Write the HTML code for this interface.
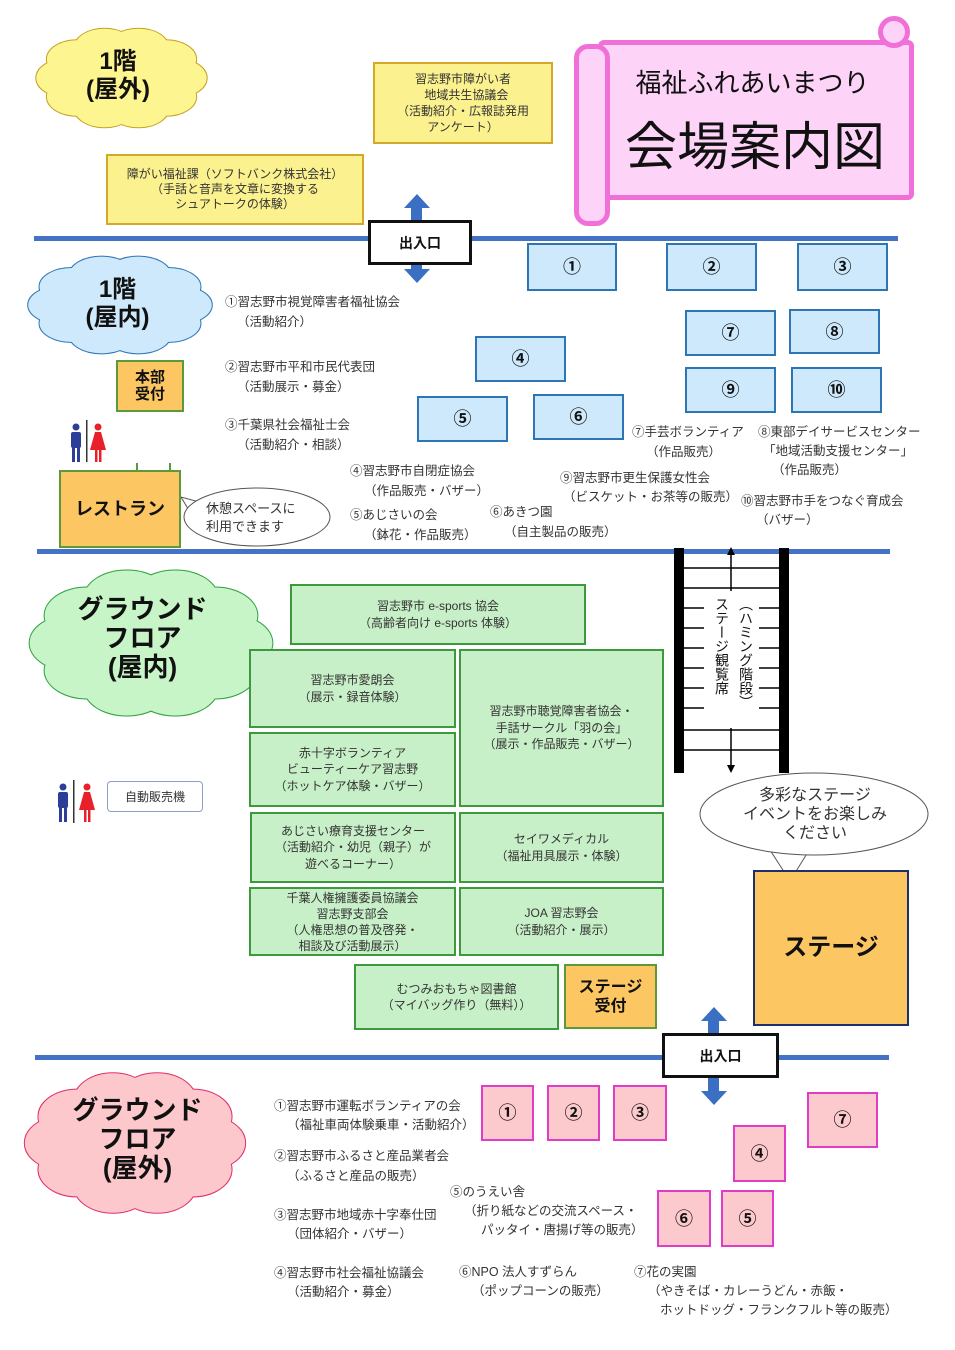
<!DOCTYPE html>
<html><head><meta charset="utf-8">
<style>
body{margin:0;width:955px;height:1350px;position:relative;background:#fff;font-family:"Liberation Sans","Noto Sans CJK JP",sans-serif;color:#333;overflow:hidden}
.t{position:absolute;white-space:nowrap;font-size:12.5px;line-height:1}
.b{position:absolute;display:flex;align-items:center;justify-content:center;text-align:center;box-sizing:border-box;font-size:12.5px;line-height:16px}
.bl{background:#cde9fb;border:2px solid #2e75b6;font-size:18px;font-weight:bold;color:#111}
.gr{background:#c8f0c8;border:2px solid #3c9a3c;font-size:12px;line-height:16.5px}
.pk{background:#fcc9cd;border:2px solid #e03cc8;font-size:18px;font-weight:bold;color:#111}
.ye{background:#fbf18f;border:2px solid #d4a829;font-size:12px;line-height:16px}
.or{background:#fcc762;border:2px solid #5a9a3a;font-weight:bold;color:#111}
.hl{position:absolute;height:5px;background:#4472c4}
.ct{position:absolute;text-align:center;font-weight:bold;color:#111;line-height:1.15}
.vt{position:absolute;writing-mode:vertical-rl;text-orientation:upright;font-size:14px;line-height:16px;letter-spacing:0;color:#111;background:#fff}
svg{position:absolute;overflow:visible}
</style></head><body>

<svg style="left:38px;top:25px" width="167" height="106" viewBox="0 0 100 100" preserveAspectRatio="none">
<g fill="none" stroke="#c8a020" stroke-width="2"><circle cx="83" cy="50" r="18" vector-effect="non-scaling-stroke"/><circle cx="76.7" cy="67.6" r="18" vector-effect="non-scaling-stroke"/><circle cx="60.2" cy="78.5" r="18" vector-effect="non-scaling-stroke"/><circle cx="39.8" cy="78.5" r="18" vector-effect="non-scaling-stroke"/><circle cx="23.3" cy="67.6" r="18" vector-effect="non-scaling-stroke"/><circle cx="17" cy="50" r="18" vector-effect="non-scaling-stroke"/><circle cx="23.3" cy="32.4" r="18" vector-effect="non-scaling-stroke"/><circle cx="39.8" cy="21.5" r="18" vector-effect="non-scaling-stroke"/><circle cx="60.2" cy="21.5" r="18" vector-effect="non-scaling-stroke"/><circle cx="76.7" cy="32.4" r="18" vector-effect="non-scaling-stroke"/></g>
<g fill="#fdf590"><circle cx="83" cy="50" r="18"/><circle cx="76.7" cy="67.6" r="18"/><circle cx="60.2" cy="78.5" r="18"/><circle cx="39.8" cy="78.5" r="18"/><circle cx="23.3" cy="67.6" r="18"/><circle cx="17" cy="50" r="18"/><circle cx="23.3" cy="32.4" r="18"/><circle cx="39.8" cy="21.5" r="18"/><circle cx="60.2" cy="21.5" r="18"/><circle cx="76.7" cy="32.4" r="18"/><ellipse cx="50" cy="50" rx="35" ry="32"/></g></svg>
<div class="ct" style="left:38px;top:48px;width:160px;font-size:24px">1階<br>(屋外)</div>

<svg style="left:30px;top:253px" width="180" height="104" viewBox="0 0 100 100" preserveAspectRatio="none">
<g fill="none" stroke="#2e75b6" stroke-width="2"><circle cx="83" cy="50" r="18" vector-effect="non-scaling-stroke"/><circle cx="76.7" cy="67.6" r="18" vector-effect="non-scaling-stroke"/><circle cx="60.2" cy="78.5" r="18" vector-effect="non-scaling-stroke"/><circle cx="39.8" cy="78.5" r="18" vector-effect="non-scaling-stroke"/><circle cx="23.3" cy="67.6" r="18" vector-effect="non-scaling-stroke"/><circle cx="17" cy="50" r="18" vector-effect="non-scaling-stroke"/><circle cx="23.3" cy="32.4" r="18" vector-effect="non-scaling-stroke"/><circle cx="39.8" cy="21.5" r="18" vector-effect="non-scaling-stroke"/><circle cx="60.2" cy="21.5" r="18" vector-effect="non-scaling-stroke"/><circle cx="76.7" cy="32.4" r="18" vector-effect="non-scaling-stroke"/></g>
<g fill="#cde9fb"><circle cx="83" cy="50" r="18"/><circle cx="76.7" cy="67.6" r="18"/><circle cx="60.2" cy="78.5" r="18"/><circle cx="39.8" cy="78.5" r="18"/><circle cx="23.3" cy="67.6" r="18"/><circle cx="17" cy="50" r="18"/><circle cx="23.3" cy="32.4" r="18"/><circle cx="39.8" cy="21.5" r="18"/><circle cx="60.2" cy="21.5" r="18"/><circle cx="76.7" cy="32.4" r="18"/><ellipse cx="50" cy="50" rx="35" ry="32"/></g></svg>
<div class="ct" style="left:35px;top:276px;width:165px;font-size:24px">1階<br>(屋内)</div>

<svg style="left:32px;top:565px" width="238" height="156" viewBox="0 0 100 100" preserveAspectRatio="none">
<g fill="none" stroke="#2ea040" stroke-width="2"><circle cx="83" cy="50" r="18" vector-effect="non-scaling-stroke"/><circle cx="76.7" cy="67.6" r="18" vector-effect="non-scaling-stroke"/><circle cx="60.2" cy="78.5" r="18" vector-effect="non-scaling-stroke"/><circle cx="39.8" cy="78.5" r="18" vector-effect="non-scaling-stroke"/><circle cx="23.3" cy="67.6" r="18" vector-effect="non-scaling-stroke"/><circle cx="17" cy="50" r="18" vector-effect="non-scaling-stroke"/><circle cx="23.3" cy="32.4" r="18" vector-effect="non-scaling-stroke"/><circle cx="39.8" cy="21.5" r="18" vector-effect="non-scaling-stroke"/><circle cx="60.2" cy="21.5" r="18" vector-effect="non-scaling-stroke"/><circle cx="76.7" cy="32.4" r="18" vector-effect="non-scaling-stroke"/></g>
<g fill="#c8f5c8"><circle cx="83" cy="50" r="18"/><circle cx="76.7" cy="67.6" r="18"/><circle cx="60.2" cy="78.5" r="18"/><circle cx="39.8" cy="78.5" r="18"/><circle cx="23.3" cy="67.6" r="18"/><circle cx="17" cy="50" r="18"/><circle cx="23.3" cy="32.4" r="18"/><circle cx="39.8" cy="21.5" r="18"/><circle cx="60.2" cy="21.5" r="18"/><circle cx="76.7" cy="32.4" r="18"/><ellipse cx="50" cy="50" rx="35" ry="32"/></g></svg>
<div class="ct" style="left:55px;top:595px;width:175px;font-size:26px;line-height:29px">グラウンド<br>フロア<br>(屋内)</div>

<svg style="left:27px;top:1068px" width="216" height="150" viewBox="0 0 100 100" preserveAspectRatio="none">
<g fill="none" stroke="#e0306a" stroke-width="2"><circle cx="83" cy="50" r="18" vector-effect="non-scaling-stroke"/><circle cx="76.7" cy="67.6" r="18" vector-effect="non-scaling-stroke"/><circle cx="60.2" cy="78.5" r="18" vector-effect="non-scaling-stroke"/><circle cx="39.8" cy="78.5" r="18" vector-effect="non-scaling-stroke"/><circle cx="23.3" cy="67.6" r="18" vector-effect="non-scaling-stroke"/><circle cx="17" cy="50" r="18" vector-effect="non-scaling-stroke"/><circle cx="23.3" cy="32.4" r="18" vector-effect="non-scaling-stroke"/><circle cx="39.8" cy="21.5" r="18" vector-effect="non-scaling-stroke"/><circle cx="60.2" cy="21.5" r="18" vector-effect="non-scaling-stroke"/><circle cx="76.7" cy="32.4" r="18" vector-effect="non-scaling-stroke"/></g>
<g fill="#fcc8cc"><circle cx="83" cy="50" r="18"/><circle cx="76.7" cy="67.6" r="18"/><circle cx="60.2" cy="78.5" r="18"/><circle cx="39.8" cy="78.5" r="18"/><circle cx="23.3" cy="67.6" r="18"/><circle cx="17" cy="50" r="18"/><circle cx="23.3" cy="32.4" r="18"/><circle cx="39.8" cy="21.5" r="18"/><circle cx="60.2" cy="21.5" r="18"/><circle cx="76.7" cy="32.4" r="18"/><ellipse cx="50" cy="50" rx="35" ry="32"/></g></svg>
<div class="ct" style="left:50px;top:1096px;width:175px;font-size:26px;line-height:29px">グラウンド<br>フロア<br>(屋外)</div>

<div style="position:absolute;left:598px;top:40px;width:306px;height:150px;background:#fdd3f8;border:5px solid #f070d8;border-radius:6px"></div>
<div style="position:absolute;left:574px;top:44px;width:26px;height:172px;background:#fdd3f8;border:5px solid #f070d8;border-radius:14px"></div>
<div style="position:absolute;left:878px;top:16px;width:22px;height:22px;background:#fdd3f8;border:5px solid #f070d8;border-radius:50%"></div>
<div class="t" style="left:600px;top:70px;width:305px;text-align:center;font-size:26px;color:#111">福祉ふれあいまつり</div>
<div class="t" style="left:600px;top:122px;width:310px;text-align:center;font-size:52px;color:#111">会場案内図</div>

<div class="b ye" style="left:373px;top:62px;width:180px;height:82px">習志野市障がい者<br>&nbsp;&nbsp;地域共生協議会<br>（活動紹介・広報誌発用<br>アンケート）</div>
<div class="b ye" style="left:106px;top:154px;width:258px;height:71px;line-height:15px">障がい福祉課（ソフトバンク株式会社）<br>（手話と音声を文章に変換する<br>シュアトークの体験）</div>

<div class="hl" style="left:34px;top:236px;width:864px"></div>
<div class="hl" style="left:37px;top:549px;width:853px"></div>
<div class="hl" style="left:35px;top:1055px;width:854px"></div>

<svg style="left:0;top:0" width="955" height="1350">
<polygon points="417,194 430,208 422,208 422,222 411,222 411,208 404,208" fill="#3a6fc4"/>
<polygon points="417,283 430,269 422,269 422,262 411,262 411,269 404,269" fill="#3a6fc4"/>
<polygon points="714,1007 727,1021 719,1021 719,1035 708,1035 708,1021 701,1021" fill="#3a6fc4"/>
<polygon points="714,1105 727,1091 719,1091 719,1076 708,1076 708,1091 701,1091" fill="#3a6fc4"/>
<rect x="674" y="548" width="10" height="225" fill="#000"/>
<rect x="779" y="548" width="10" height="225" fill="#000"/>
<g stroke="#000" stroke-width="1.5">
<line x1="684" y1="568" x2="779" y2="568"/><line x1="684" y1="588" x2="779" y2="588"/>
<line x1="684" y1="730" x2="779" y2="730"/><line x1="684" y1="750" x2="779" y2="750"/>
<line x1="684" y1="608" x2="704" y2="608"/><line x1="759" y1="608" x2="779" y2="608"/>
<line x1="684" y1="628" x2="704" y2="628"/><line x1="759" y1="628" x2="779" y2="628"/>
<line x1="684" y1="648" x2="704" y2="648"/><line x1="759" y1="648" x2="779" y2="648"/>
<line x1="684" y1="668" x2="704" y2="668"/><line x1="759" y1="668" x2="779" y2="668"/>
<line x1="684" y1="688" x2="704" y2="688"/><line x1="759" y1="688" x2="779" y2="688"/>
<line x1="684" y1="708" x2="704" y2="708"/><line x1="759" y1="708" x2="779" y2="708"/>
<line x1="731" y1="552" x2="731" y2="591"/><line x1="731" y1="728" x2="731" y2="768"/>
</g>
<polygon points="731,547 727,555 735,555" fill="#000"/>
<polygon points="731,773 727,765 735,765" fill="#000"/>
<path d="M203,503 L181,497 L190,512 Z" fill="#fff" stroke="#555" stroke-width="1"/>
<ellipse cx="257" cy="517" rx="73" ry="29" fill="#fff" stroke="#555" stroke-width="1"/>
<path d="M770,850 L790,881 L808,852 Z" fill="#fff" stroke="#555" stroke-width="1"/>
<ellipse cx="814" cy="814" rx="114" ry="41" fill="#fff" stroke="#555" stroke-width="1"/>
<rect x="775" y="846" width="30" height="6" fill="#fff"/>
<g fill="#2d3e99"><circle cx="76" cy="427" r="3.5"/><rect x="71" y="432" width="10" height="16" rx="2"/><rect x="72" y="446" width="3" height="16"/><rect x="77" y="446" width="3" height="16"/></g>
<rect x="86" y="420" width="1.5" height="42" fill="#333"/>
<g fill="#e8202a"><circle cx="98" cy="427" r="3.5"/><polygon points="95,432 101,432 106,450 90,450"/><rect x="95" y="449" width="2.5" height="13"/><rect x="99" y="449" width="2.5" height="13"/></g>
<g fill="#2d3e99"><circle cx="63" cy="787" r="3.5"/><rect x="58" y="792" width="10" height="16" rx="2"/><rect x="59" y="806" width="3" height="16"/><rect x="64" y="806" width="3" height="16"/></g>
<rect x="73" y="780" width="1.5" height="43" fill="#333"/>
<g fill="#e8202a"><circle cx="87" cy="787" r="3.5"/><polygon points="84,792 90,792 95,810 79,810"/><rect x="84" y="809" width="2.5" height="13"/><rect x="88" y="809" width="2.5" height="13"/></g>
</svg>
<div class="b" style="left:368px;top:220px;width:104px;height:45px;background:#fff;border:3px solid #111;font-weight:bold;font-size:14px;color:#111">出入口</div>
<div class="b" style="left:662px;top:1033px;width:117px;height:45px;background:#fff;border:3px solid #111;font-weight:bold;font-size:14px;color:#111">出入口</div>

<div class="t" style="left:206px;top:500px;font-size:13px;line-height:18px">休憩スペースに<br>利用できます</div>
<div class="t" style="left:740px;top:786px;width:150px;text-align:center;font-size:16px;line-height:19px">多彩なステージ<br>イベントをお楽しみ<br>ください</div>
<div class="vt" style="left:710px;top:597px;width:20px">ステージ観覧席</div>
<div class="vt" style="left:734px;top:597px;width:20px;text-orientation:mixed">（ハミング階段）</div>

<div class="b or" style="left:116px;top:360px;width:68px;height:52px;font-size:15px;line-height:17px">本部<br>受付</div>
<div class="b or" style="left:59px;top:470px;width:122px;height:78px;font-size:18px">レストラン</div>
<div style="position:absolute;left:136px;top:463px;width:2px;height:9px;background:#5a9a3a"></div>
<div style="position:absolute;left:169px;top:463px;width:2px;height:9px;background:#5a9a3a"></div>
<div class="b or" style="left:564px;top:964px;width:93px;height:65px;font-size:16px;line-height:19px">ステージ<br>受付</div>
<div class="b or" style="left:753px;top:870px;width:156px;height:156px;font-size:24px;border-color:#1f2f6a">ステージ</div>

<div class="b bl" style="left:527px;top:243px;width:90px;height:48px">①</div>
<div class="b bl" style="left:666px;top:243px;width:91px;height:48px">②</div>
<div class="b bl" style="left:797px;top:243px;width:91px;height:48px">③</div>
<div class="b bl" style="left:685px;top:310px;width:91px;height:46px">⑦</div>
<div class="b bl" style="left:789px;top:309px;width:91px;height:45px">⑧</div>
<div class="b bl" style="left:685px;top:367px;width:91px;height:46px">⑨</div>
<div class="b bl" style="left:791px;top:367px;width:91px;height:46px">⑩</div>
<div class="b bl" style="left:475px;top:336px;width:91px;height:46px">④</div>
<div class="b bl" style="left:417px;top:396px;width:91px;height:46px">⑤</div>
<div class="b bl" style="left:533px;top:394px;width:91px;height:46px">⑥</div>

<div class="t" style="left:225px;top:296px">①習志野市視覚障害者福祉協会</div>
<div class="t" style="left:237px;top:316px">（活動紹介）</div>
<div class="t" style="left:225px;top:361px">②習志野市平和市民代表団</div>
<div class="t" style="left:237px;top:381px">（活動展示・募金）</div>
<div class="t" style="left:225px;top:419px">③千葉県社会福祉士会</div>
<div class="t" style="left:237px;top:439px">（活動紹介・相談）</div>
<div class="t" style="left:350px;top:465px">④習志野市自閉症協会</div>
<div class="t" style="left:364px;top:485px">（作品販売・バザー）</div>
<div class="t" style="left:350px;top:509px">⑤あじさいの会</div>
<div class="t" style="left:364px;top:529px">（鉢花・作品販売）</div>
<div class="t" style="left:490px;top:506px">⑥あきつ園</div>
<div class="t" style="left:504px;top:526px">（自主製品の販売）</div>
<div class="t" style="left:632px;top:426px">⑦手芸ボランティア</div>
<div class="t" style="left:646px;top:446px">（作品販売）</div>
<div class="t" style="left:758px;top:426px">⑧東部デイサービスセンター</div>
<div class="t" style="left:763px;top:445px">「地域活動支援センター」</div>
<div class="t" style="left:772px;top:464px">（作品販売）</div>
<div class="t" style="left:560px;top:472px">⑨習志野市更生保護女性会</div>
<div class="t" style="left:563px;top:491px">（ビスケット・お茶等の販売）</div>
<div class="t" style="left:741px;top:495px">⑩習志野市手をつなぐ育成会</div>
<div class="t" style="left:756px;top:514px">（バザー）</div>

<div class="b gr" style="left:290px;top:584px;width:296px;height:61px">習志野市 e-sports 協会<br>（高齢者向け e-sports 体験）</div>
<div class="b gr" style="left:249px;top:649px;width:207px;height:79px">習志野市愛朗会<br>（展示・録音体験）</div>
<div class="b gr" style="left:459px;top:649px;width:205px;height:158px">習志野市聴覚障害者協会・<br>手話サークル「羽の会」<br>（展示・作品販売・バザー）</div>
<div class="b gr" style="left:249px;top:732px;width:207px;height:75px">赤十字ボランティア<br>ビューティーケア習志野<br>（ホットケア体験・バザー）</div>
<div class="b gr" style="left:250px;top:812px;width:206px;height:71px">あじさい療育支援センター<br>（活動紹介・幼児（親子）が<br>遊べるコーナー）</div>
<div class="b gr" style="left:459px;top:812px;width:205px;height:71px">セイワメディカル<br>（福祉用具展示・体験）</div>
<div class="b gr" style="left:249px;top:887px;width:207px;height:69px;line-height:16px">千葉人権擁護委員協議会<br>習志野支部会<br>（人権思想の普及啓発・<br>相談及び活動展示）</div>
<div class="b gr" style="left:459px;top:887px;width:205px;height:69px">JOA 習志野会<br>（活動紹介・展示）</div>
<div class="b gr" style="left:354px;top:964px;width:205px;height:66px">むつみおもちゃ図書館<br>（マイバッグ作り（無料））</div>
<div class="b" style="left:107px;top:781px;width:96px;height:31px;border:1px solid #8aa0c8;border-radius:4px;font-size:12px">自動販売機</div>

<div class="b pk" style="left:481px;top:1085px;width:53px;height:56px">①</div>
<div class="b pk" style="left:547px;top:1085px;width:53px;height:56px">②</div>
<div class="b pk" style="left:613px;top:1085px;width:54px;height:56px">③</div>
<div class="b pk" style="left:807px;top:1092px;width:71px;height:56px">⑦</div>
<div class="b pk" style="left:733px;top:1125px;width:53px;height:57px">④</div>
<div class="b pk" style="left:657px;top:1190px;width:54px;height:57px">⑥</div>
<div class="b pk" style="left:721px;top:1190px;width:53px;height:57px">⑤</div>

<div class="t" style="left:274px;top:1100px">①習志野市運転ボランティアの会</div>
<div class="t" style="left:287px;top:1119px">（福祉車両体験乗車・活動紹介）</div>
<div class="t" style="left:274px;top:1150px">②習志野市ふるさと産品業者会</div>
<div class="t" style="left:287px;top:1170px">（ふるさと産品の販売）</div>
<div class="t" style="left:450px;top:1186px">⑤のうえい舎</div>
<div class="t" style="left:464px;top:1205px">（折り紙などの交流スペース・</div>
<div class="t" style="left:481px;top:1224px">パッタイ・唐揚げ等の販売）</div>
<div class="t" style="left:274px;top:1209px">③習志野市地域赤十字奉仕団</div>
<div class="t" style="left:287px;top:1228px">（団体紹介・バザー）</div>
<div class="t" style="left:274px;top:1267px">④習志野市社会福祉協議会</div>
<div class="t" style="left:287px;top:1286px">（活動紹介・募金）</div>
<div class="t" style="left:459px;top:1266px">⑥NPO 法人すずらん</div>
<div class="t" style="left:472px;top:1285px">（ポップコーンの販売）</div>
<div class="t" style="left:634px;top:1266px">⑦花の実園</div>
<div class="t" style="left:648px;top:1285px">（やきそば・カレーうどん・赤飯・</div>
<div class="t" style="left:660px;top:1304px">ホットドッグ・フランクフルト等の販売）</div>
</body></html>
